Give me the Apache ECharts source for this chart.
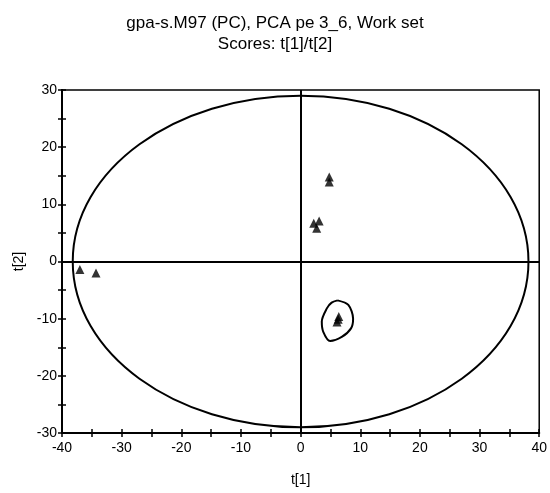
<!DOCTYPE html>
<html>
<head>
<meta charset="utf-8">
<script src="https://cdn.jsdelivr.net/npm/echarts@6/dist/echarts.min.js"></script>
<style>html,body{margin:0;padding:0;background:#fff;}#c{width:550px;height:493px;}</style>
</head>
<body>
<div id="c"></div>
<script>
const titleLines = ['gpa-s.M97 (PC), PCA pe 3_6, Work set', 'Scores: t[1]/t[2]'];
const xName = 't[1]';
const yName = 't[2]';
const xRange = [-40, 40];
const yRange = [-30, 30];
// score points [t1, t2]
const t1 = [-37.0, -34.3, 4.8, 4.8, 2.2, 3.1, 2.7, 6.4, 6.1, 6.3];
const t2 = [-1.4, -2.0, 14.8, 13.9, 6.7, 7.1, 5.8, -9.6, -10.6, -10.1];
// Hotelling ellipse: center and radii (data units)
const ellipseCenter = [0, 0];
const ellipseRadius = [38.2, 29.0];
// small closed contour around the lower-right cluster
const contourX = [6.2, 8.0, 8.8, 8.45, 6.9, 4.95, 3.8, 3.55, 4.4, 5.2, 6.2];
const contourY = [-6.8, -7.6, -10.0, -11.7, -13.2, -13.9, -12.3, -10.5, -8.2, -7.2, -6.8];

const FONT = 'Liberation Sans, Arial, sans-serif';
const chart = echarts.init(document.getElementById('c'), null, {renderer: 'canvas'});

const axisCommon = {
  interval: 10,
  axisLine: {show: true, onZero: false, lineStyle: {color: '#000', width: 2}},
  splitLine: {show: false},
  minorTick: {show: true, splitNumber: 2, length: 4, lineStyle: {color: '#000', width: 1.5}},
  axisTick: {show: true, length: 4, lineStyle: {color: '#000', width: 1.5}},
};

const option = {
  animation: false,
  backgroundColor: '#fff',
  title: {
    text: titleLines.join('\n'),
    left: 'center', top: 8,
    textStyle: {fontFamily: FONT, fontSize: 17, fontWeight: 'normal', color: '#000', lineHeight: 21}
  },
  grid: {left: 62, right: 10, top: 90, bottom: 60, show: true, borderColor: '#000', borderWidth: 1.5},
  xAxis: [
    Object.assign({}, axisCommon, {
      type: 'value', min: xRange[0], max: xRange[1], position: 'bottom',
      name: xName, nameLocation: 'middle', nameGap: 40,
      nameTextStyle: {fontFamily: FONT, fontSize: 14, color: '#000'},
      axisLabel: {fontFamily: FONT, fontSize: 14, color: '#000', margin: 8}
    }),
    Object.assign({}, axisCommon, {
      type: 'value', min: xRange[0], max: xRange[1], position: 'bottom',
      axisLabel: {show: false}, axisTick: Object.assign({}, axisCommon.axisTick, {inside: true})
    })
  ],
  yAxis: [
    Object.assign({}, axisCommon, {
      type: 'value', min: yRange[0], max: yRange[1], position: 'left',
      name: yName, nameLocation: 'middle', nameGap: 36, nameRotate: 90,
      nameTextStyle: {fontFamily: FONT, fontSize: 14, color: '#000'},
      axisLabel: {fontFamily: FONT, fontSize: 14, color: '#000', margin: 5}
    }),
    Object.assign({}, axisCommon, {
      type: 'value', min: yRange[0], max: yRange[1], position: 'left',
      axisLabel: {show: false}, axisTick: Object.assign({}, axisCommon.axisTick, {inside: true})
    })
  ],
  series: [
    {
      type: 'custom',
      silent: true,
      data: [[ellipseCenter[0], ellipseCenter[1], ellipseRadius[0], ellipseRadius[1]]],
      renderItem: function (params, api) {
        const c = api.coord([api.value(0), api.value(1)]);
        const s = api.size([api.value(2), api.value(3)]);
        return {
          type: 'ellipse',
          shape: {cx: c[0], cy: c[1], rx: s[0], ry: s[1]},
          style: {fill: null, stroke: '#000', lineWidth: 2}
        };
      },
      z: 3
    },
    {
      type: 'line',
      data: contourX.map((x, i) => [x, contourY[i]]),
      showSymbol: false,
      smooth: 0.3,
      lineStyle: {color: '#000', width: 2},
      silent: true,
      z: 3,
      markLine: {
        silent: true, symbol: 'none', label: {show: false},
        lineStyle: {color: '#000', width: 2, type: 'solid'},
        data: [{xAxis: 0}, {yAxis: 0}]
      }
    },
    {
      type: 'scatter',
      data: t1.map((x, i) => [x, t2[i]]),
      symbol: 'triangle',
      symbolSize: [9, 9],
      itemStyle: {color: '#000'},
      z: 4
    }
  ]
};
chart.setOption(option);
</script>
</body>
</html>
